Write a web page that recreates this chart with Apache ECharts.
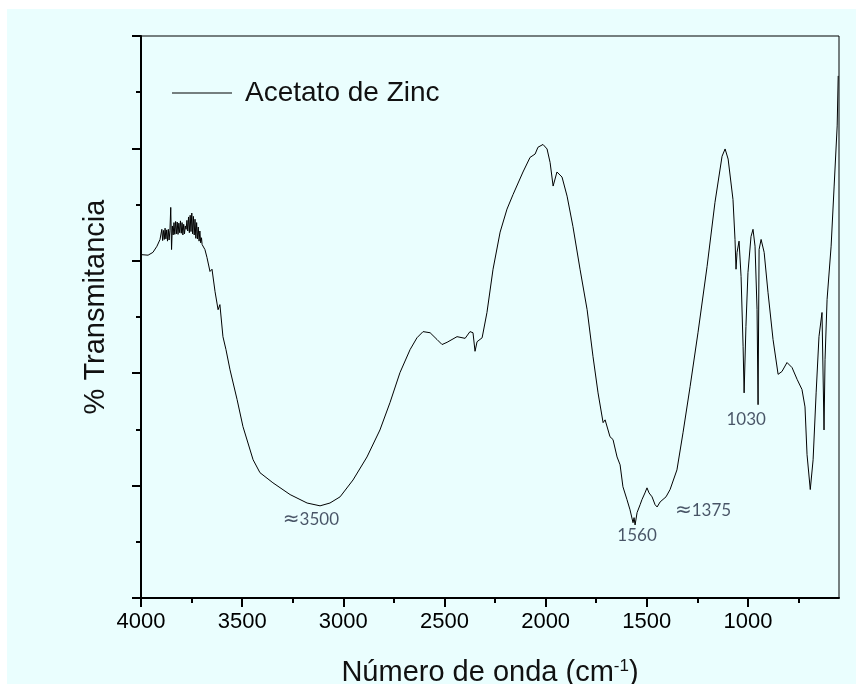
<!DOCTYPE html>
<html><head><meta charset="utf-8">
<script src="https://cdn.jsdelivr.net/npm/echarts@6/dist/echarts.min.js"></script>
<style>html,body{margin:0;padding:0;background:#fff}#c{width:856px;height:684px}</style>
</head><body><div id="c"></div>
<script>
const seriesName = 'Acetato de Zinc';
const wavenumbers = [4000,3965,3941,3921,3906,
3901,3897,3893,3889,3885,3881,3877,3873,3869,3865,
3861,3857,3853,3849,3845,3841,3837,3833,3829,3825,
3821,3817,3813,3809,3805,3801,3797,3793,3789,3785,
3781,3777,3773,3769,3765,3761,3757,3753,3749,3745,
3741,3737,3733,3729,3725,3721,3717,3713,3709,3705,
3701,3698,
3684,3674,3659,3649,3634,3619,3610,3595,3580,3560,3525,3496,3446,
3412,3348,3263,3179,3115,3066,3016,2952,2883,2819,
2769,2720,2670,2636,2606,2571,2537,2512,2487,2438,
2398,2374,2359,2349,2339,2314,2290,2260,2225,2191,
2161,2112,2077,2052,2038,2013,1993,1978,1963,1944,
1919,1894,1865,1830,1795,1766,1741,1716,1706,1682,
1667,1647,1632,1618,1598,1583,1568,1563,1558,1548,
1533,1524,1509,1499,1489,1474,1459,1449,1434,1425,
1405,1385,1351,1321,1286,1247,1202,1163,1128,1113,
1098,1074,1064,1059,1054,1044,1034,1024,1019,1010,
1000,985,975,965,955,950,945,935,920,901,
876,851,832,807,782,757,733,718,708,692,
678,663,649,634,629,624,619,609,589,574,
559,554];
const transmittance = [61.1,61.0,61.5,62.6,63.8,
63.9,65.6,63.6,65.4,63.8,65.8,63.9,65.5,63.5,65.6,
63.7,65.4,69.5,62.0,66.2,64.6,66.8,64.7,67.0,64.8,
66.9,64.7,66.7,65.0,67.1,64.9,66.8,64.6,66.5,64.8,
66.2,65.6,67.2,65.3,67.8,65.0,68.1,65.2,68.5,64.8,
67.9,64.6,67.4,64.0,66.8,63.9,66.0,63.5,65.3,63.2,
64.1,62.9,
62.0,60.6,58.1,58.5,54.5,51.3,52.2,46.5,44.2,40.6,35.3,30.5,24.6,
22.3,20.5,18.4,16.9,16.4,16.9,18.0,21.0,25.1,29.9,
34.8,40.1,44.2,46.3,47.4,47.2,46.0,45.1,45.5,46.5,
46.2,47.4,47.2,43.9,45.6,46.3,50.8,58.5,65.1,69.2,
71.8,75.8,78.4,79.0,80.2,80.7,79.9,77.5,73.3,75.8,
74.9,71.5,66.1,58.5,51.3,43.0,36.5,31.2,31.7,28.7,
28.2,25.1,23.7,19.8,17.5,15.7,13.4,14.3,13.0,15.2,
16.6,17.5,18.7,19.6,18.7,18.0,16.6,16.2,17.1,16.9,
18.0,19.3,22.8,29.4,37.6,47.2,59.0,70.4,78.6,79.9,
78.1,70.9,63.8,58.5,61.5,63.5,57.2,44.7,36.5,48.3,
57.9,64.3,65.6,62.6,51.3,34.4,62.0,63.8,61.5,54.4,
46.0,39.8,40.3,41.9,41.0,38.9,37.1,34.0,25.5,19.3,
24.6,36.5,46.5,50.8,50.8,29.9,42.4,53.1,62.6,73.3,
84.0,92.9];
const xTickLabels = [4000,3500,3000,2500,2000,1500,1000];
const xMinorTicks = [3750,3250,2750,2250,1750,1250,750];
const annotationText = ['{a|\u2248}3500','1560','{a|\u2248}1375','1030'];
const annotationX = [3160,1548,1222,1009];
const annotationY = [13.9,11.2,15.5,31.7];

const chart = echarts.init(document.getElementById('c'), null, {renderer:'canvas'});
const spectrum = wavenumbers.map((w,i)=>[w, transmittance[i]]);
const notes = annotationX.map((w,i)=>({value:[w, annotationY[i]], name: annotationText[i]}));
const grid = {left:141, right:17, top:36, bottom:86};
chart.setOption({
  animation:false,
  backgroundColor:'#ffffff',
  graphic:[{type:'rect', z:-10, silent:true, shape:{x:7,y:9,width:849,height:675}, style:{fill:'#eafefe'}}],
  grid:Object.assign({show:true, borderColor:'#000', borderWidth:1, backgroundColor:'transparent', outerBoundsMode:'none', containLabel:false}, grid),
  legend:{show:true, data:[seriesName], left:167, top:74, icon:'rect', itemWidth:60, itemHeight:1,
    itemStyle:{color:'#000'},
    textStyle:{fontFamily:'Liberation Sans, Arial, sans-serif', fontSize:28, color:'#111', padding:[0,0,0,8]}},
  xAxis:[{
    type:'value', min:550, max:4000, inverse:true, position:'bottom',
    name:'Número de onda (cm{sup|-1})', nameLocation:'middle', nameGap:60,
    nameTextStyle:{fontFamily:'Liberation Sans, Arial, sans-serif', fontSize:29, color:'#111',
      rich:{sup:{fontFamily:'Liberation Sans, Arial, sans-serif', fontSize:17, color:'#111', verticalAlign:'top', padding:[0,0,10,0]}}},
    axisLine:{show:true, onZero:false, lineStyle:{color:'#000', width:2}},
    axisTick:{show:true, inside:false, length:9, lineStyle:{color:'#000', width:2}, customValues:xTickLabels},
    axisLabel:{show:true, margin:13, customValues:xTickLabels, formatter:v=>String(v),
      fontFamily:'Liberation Sans, Arial, sans-serif', fontSize:22, color:'#000'},
    splitLine:{show:false}
  },{
    type:'value', min:550, max:4000, inverse:true, position:'bottom',
    axisLine:{show:false},
    axisTick:{show:true, inside:false, length:5, lineStyle:{color:'#000', width:2}, customValues:xMinorTicks},
    axisLabel:{show:false},
    splitLine:{show:false}
  }],
  yAxis:{
    type:'value', min:0, max:100, interval:20,
    name:'% Transmitancia', nameLocation:'middle', nameGap:31,
    nameTextStyle:{fontFamily:'Liberation Sans, Arial, sans-serif', fontSize:29, color:'#111', padding:[0,0,0,20]},
    axisLine:{show:true, onZero:false, lineStyle:{color:'#000', width:2}},
    axisTick:{show:true, inside:false, length:9, lineStyle:{color:'#000', width:2}},
    minorTick:{show:true, splitNumber:2, length:5, lineStyle:{color:'#000', width:2}},
    axisLabel:{show:false},
    splitLine:{show:false}
  },
  series:[{
    name:seriesName, type:'line', data:spectrum, xAxisIndex:0, symbol:'none', showSymbol:false,
    lineStyle:{color:'#000', width:1}, itemStyle:{color:'#000'}, smooth:false
  },{
    name:'notes', type:'scatter', data:notes, xAxisIndex:0, symbolSize:1, itemStyle:{color:'rgba(0,0,0,0)'},
    label:{show:true, position:'inside', formatter:p=>p.name, fontFamily:'Lato, sans-serif', fontSize:17, color:'#1f2940',
      rich:{a:{fontFamily:'DejaVu Sans, sans-serif', fontSize:20, color:'#1f2940'}}}
  }]
});
</script></body></html>
